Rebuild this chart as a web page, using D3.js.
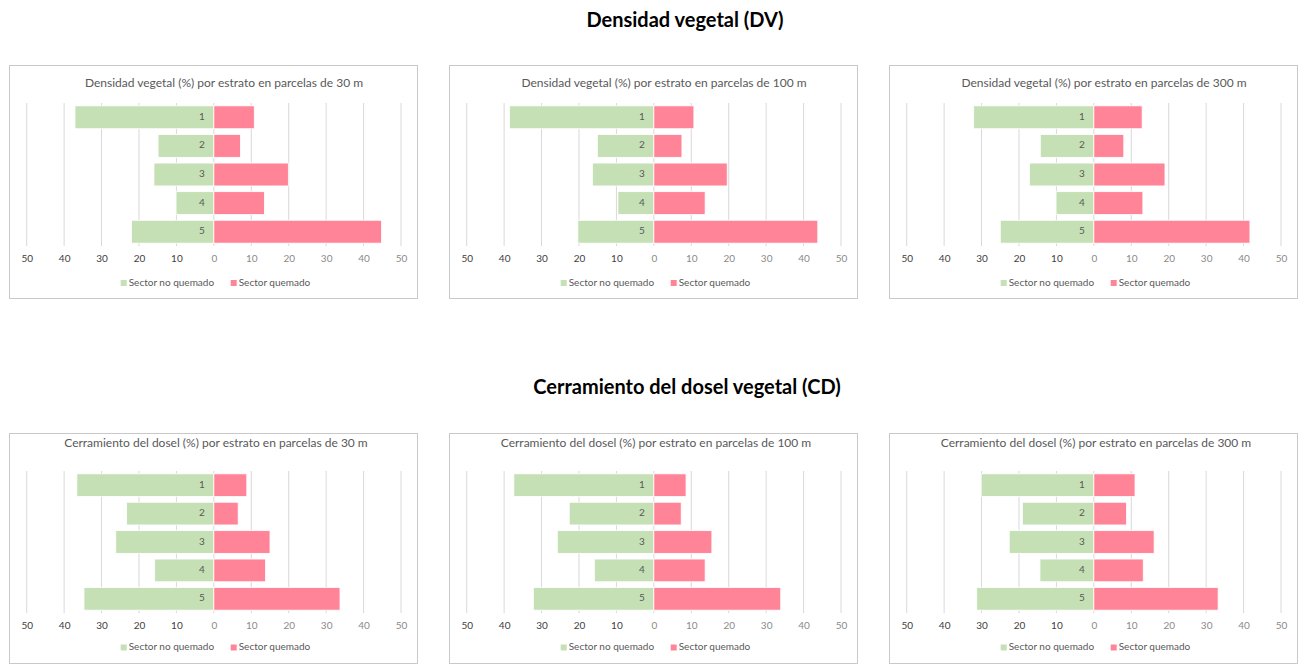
<!DOCTYPE html>
<html>
<head>
<meta charset="utf-8">
<script src="https://cdn.jsdelivr.net/npm/d3@7"></script>
<style>
  html, body { margin: 0; padding: 0; background: #ffffff; }
  svg { display: block; font-family: Lato, "Open Sans", sans-serif; }
</style>
</head>
<body>
<svg id="chart" width="1303" height="664"></svg>
<script>
// Strata (categories) and tick values
const strata = ["1", "2", "3", "4", "5"];
const tickValues = [-50, -40, -30, -20, -10, 0, 10, 20, 30, 40, 50];
const seriesNames = ["Sector no quemado", "Sector quemado"];

// Densidad vegetal (%) — unburned / burned, per plot size
const dv30NoQuemado  = [37.1, 14.9, 16.0, 10.1, 22.0];
const dv30Quemado    = [10.8, 7.1, 19.9, 13.5, 44.8];
const dv100NoQuemado = [38.6, 15.1, 16.4, 9.6, 20.3];
const dv100Quemado   = [10.7, 7.5, 19.6, 13.7, 43.8];
const dv300NoQuemado = [32.1, 14.3, 17.2, 10.1, 25.0];
const dv300Quemado   = [12.9, 8.0, 19.0, 13.1, 41.7];

// Cerramiento del dosel (%) — unburned / burned, per plot size
const cd30NoQuemado  = [36.6, 23.3, 26.2, 15.8, 34.7];
const cd30Quemado    = [8.8, 6.5, 15.0, 13.8, 33.7];
const cd100NoQuemado = [37.4, 22.6, 25.8, 15.9, 32.2];
const cd100Quemado   = [8.6, 7.3, 15.5, 13.7, 33.9];
const cd300NoQuemado = [30.1, 19.1, 22.6, 14.4, 31.3];
const cd300Quemado   = [11.0, 8.7, 16.1, 13.2, 33.2];

const sectionTitles = ["Densidad vegetal (DV)", "Cerramiento del dosel vegetal (CD)"];
const panelTitles = [
  "Densidad vegetal (%) por estrato en parcelas de 30 m",
  "Densidad vegetal (%) por estrato en parcelas de 100 m",
  "Densidad vegetal (%) por estrato en parcelas de 300 m",
  "Cerramiento del dosel (%) por estrato en parcelas de 30 m",
  "Cerramiento del dosel (%) por estrato en parcelas de 100 m",
  "Cerramiento del dosel (%) por estrato en parcelas de 300 m"
];

const panels = [
  { title: panelTitles[0], left: dv30NoQuemado,  right: dv30Quemado },
  { title: panelTitles[1], left: dv100NoQuemado, right: dv100Quemado },
  { title: panelTitles[2], left: dv300NoQuemado, right: dv300Quemado },
  { title: panelTitles[3], left: cd30NoQuemado,  right: cd30Quemado },
  { title: panelTitles[4], left: cd100NoQuemado, right: cd100Quemado },
  { title: panelTitles[5], left: cd300NoQuemado, right: cd300Quemado }
];

const GREEN = "#c5e0b4";
const RED = "#ff8497";

const svg = d3.select("#chart");

// Section headings
const headingLayout = [
  { x: 685, y: 22 },
  { x: 687, y: 389 }
];
sectionTitles.forEach((t, i) => {
  svg.append("text")
    .attr("x", headingLayout[i].x)
    .attr("y", headingLayout[i].y)
    .attr("text-anchor", "middle")
    .attr("dominant-baseline", "middle")
    .attr("font-weight", "bold")
    .attr("font-size", 20)
    .attr("fill", "#000")
    .text(t);
});

// Layout of each chart frame, per row
const colX = [9, 449, 889];
const rows = [
  { y: 65,  h: 233, titleX: 215, titleY: 18.5, plotTop: 38, plotBottom: 181, tickY: 196, legendY: 218 },
  { y: 433, h: 230, titleX: 207, titleY: 11,   plotTop: 38, plotBottom: 180, tickY: 195, legendY: 214.5 }
];
const panelW = 408;

panels.forEach((p, i) => {
  const row = rows[Math.floor(i / 3)];
  const g = svg.append("g")
    .attr("transform", `translate(${colX[i % 3]},${row.y})`);

  g.append("rect")
    .attr("x", 0.5).attr("y", 0.5)
    .attr("width", panelW).attr("height", row.h)
    .attr("fill", "#fff")
    .attr("stroke", "#c9c9c9");

  const x = d3.scaleLinear().domain([-50, 50]).range([17.7, 392]);
  const y = d3.scaleBand().domain(strata)
    .range([row.plotTop, row.plotBottom])
    .paddingInner(0.2).paddingOuter(0.1);

  // Title
  g.append("text")
    .attr("x", row.titleX)
    .attr("y", row.titleY)
    .attr("text-anchor", "middle")
    .attr("dominant-baseline", "middle")
    .attr("font-size", 12)
    .attr("fill", "#595959")
    .text(p.title);

  // Vertical gridlines
  g.append("g").selectAll("line")
    .data(tickValues)
    .join("line")
    .attr("x1", d => x(d)).attr("x2", d => x(d))
    .attr("y1", row.plotTop).attr("y2", row.plotBottom)
    .attr("stroke", "#d9d9d9")
    .attr("stroke-width", 1);

  // Bars: unburned to the left, burned to the right
  g.append("g").selectAll("rect")
    .data(p.left.map((v, k) => ({ s: strata[k], v })))
    .join("rect")
    .attr("x", d => x(-d.v))
    .attr("y", d => y(d.s))
    .attr("width", d => x(0) - x(-d.v))
    .attr("height", y.bandwidth())
    .attr("fill", GREEN)
    .attr("stroke", "#fff")
    .attr("stroke-width", 0.8);

  g.append("g").selectAll("rect")
    .data(p.right.map((v, k) => ({ s: strata[k], v })))
    .join("rect")
    .attr("x", x(0))
    .attr("y", d => y(d.s))
    .attr("width", d => x(d.v) - x(0))
    .attr("height", y.bandwidth())
    .attr("fill", RED)
    .attr("stroke", "#fff")
    .attr("stroke-width", 0.8);

  // Stratum labels beside the centre line
  g.append("g").selectAll("text")
    .data(strata)
    .join("text")
    .attr("x", x(0) - 9)
    .attr("y", d => y(d) + y.bandwidth() / 2)
    .attr("text-anchor", "end")
    .attr("dominant-baseline", "middle")
    .attr("font-size", 10)
    .attr("fill", "#595959")
    .text(d => d);

  // Bottom axis labels (absolute values)
  const axis = d3.axisBottom(x)
    .tickValues(tickValues)
    .tickSize(0)
    .tickFormat(d => Math.abs(d));
  const ag = g.append("g")
    .attr("transform", `translate(0,${row.tickY - 6})`)
    .call(axis);
  ag.select(".domain").remove();
  ag.selectAll("text")
    .attr("font-family", "Lato, sans-serif")
    .attr("font-size", 10)
    .attr("dy", "0.71em")
    .attr("y", 0)
    .attr("fill", d => d < 0 ? "#404040" : "#8a8a8a");

  // Legend
  const legend = [
    { name: seriesNames[0], color: GREEN, x: 111.7 },
    { name: seriesNames[1], color: RED, x: 221.7 }
  ];
  const lg = g.append("g").selectAll("g")
    .data(legend)
    .join("g")
    .attr("transform", d => `translate(${d.x},${row.legendY})`);
  lg.append("rect")
    .attr("x", 0).attr("y", -3)
    .attr("width", 6).attr("height", 6)
    .attr("fill", d => d.color);
  lg.append("text")
    .attr("x", 8)
    .attr("y", 0)
    .attr("dominant-baseline", "middle")
    .attr("font-size", 10)
    .attr("fill", "#595959")
    .text(d => d.name);
});
</script>
</body>
</html>
